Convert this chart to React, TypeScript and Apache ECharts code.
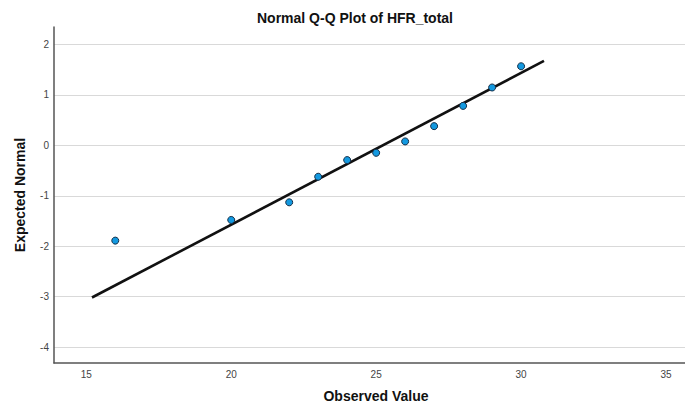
import React, { useEffect, useRef } from "react";
import * as echarts from "echarts";

const observed = [16, 20, 22, 23, 24, 25, 26, 27, 28, 29, 30];
const expectedNormal = [-1.889, -1.479, -1.129, -0.622, -0.291, -0.147, 0.079, 0.382, 0.784, 1.149, 1.57];
const fitLineX = [15.197, 30.79];
const fitLineY = [-3.018, 1.675];
const xTicks = [15, 20, 25, 30, 35];
const yTicks = [-4, -3, -2, -1, 0, 1, 2];

export default function App() {
  const ref = useRef<HTMLDivElement>(null);
  useEffect(() => {
    if (!ref.current) return;
    const chart = echarts.init(ref.current, null, { renderer: "svg" });
    const font = "'Liberation Sans', Arial, sans-serif";
    chart.setOption({
      animation: false,
      backgroundColor: "#ffffff",
      title: {
        text: "Normal Q-Q Plot of HFR_total",
        left: 350,
        textAlign: "center",
        top: 6,
        textStyle: { fontFamily: font, fontSize: 14, fontWeight: "bold", color: "#111" },
      },
      grid: { left: 54, top: 27, right: 0, bottom: 45, containLabel: false },
      xAxis: {
        type: "value",
        min: 13.886,
        max: 35.655,
        name: "Observed Value",
        nameLocation: "middle",
        nameGap: 26,
        nameTextStyle: { fontFamily: font, fontSize: 14, fontWeight: "bold", color: "#111", padding: [0, 0, 0, 13] },
        axisLine: { show: true, onZero: false, lineStyle: { color: "#555", width: 1.5 } },
        axisTick: { show: false },
        splitLine: { show: false },
        axisLabel: {
          fontFamily: font,
          fontSize: 10,
          color: "#444",
          margin: 6,
          customValues: xTicks,
          formatter: (v: number) => String(v),
        },
      },
      yAxis: {
        type: "value",
        min: -4.317,
        max: 2.349,
        name: "Expected Normal",
        nameLocation: "middle",
        nameGap: 27,
        nameRotate: 90,
        nameTextStyle: { fontFamily: font, fontSize: 14, fontWeight: "bold", color: "#111" },
        axisLine: { show: true, onZero: false, lineStyle: { color: "#555", width: 1.5 } },
        axisTick: { show: false },
        axisLabel: {
          fontFamily: font,
          fontSize: 10,
          color: "#444",
          margin: 5,
          customValues: yTicks,
          formatter: (v: number) => String(v),
        },
        splitLine: { show: false },
      },
      series: [
        {
          type: "line",
          data: [],
          z: 0,
          markLine: {
            silent: true,
            symbol: "none",
            z: 0,
            label: { show: false },
            lineStyle: { color: "#d9d9d9", width: 1.2, type: "solid" },
            data: yTicks.map((t) => ({ yAxis: t })),
          },
        },
        {
          type: "line",
          data: fitLineX.map((x, i) => [x, fitLineY[i]]),
          symbol: "none",
          lineStyle: { color: "#111", width: 2.6 },
          z: 10,
        },
        {
          type: "scatter",
          data: observed.map((x, i) => [x, expectedNormal[i]]),
          symbol: "circle",
          symbolSize: 7,
          itemStyle: { color: "#1399e0", borderColor: "#142f48", borderWidth: 1, opacity: 1 },
          z: 11,
        },
      ],
    });
    return () => chart.dispose();
  }, []);
  return <div ref={ref} style={{ width: 685, height: 408, position: "absolute", left: 0, top: 0 }} />;
}
